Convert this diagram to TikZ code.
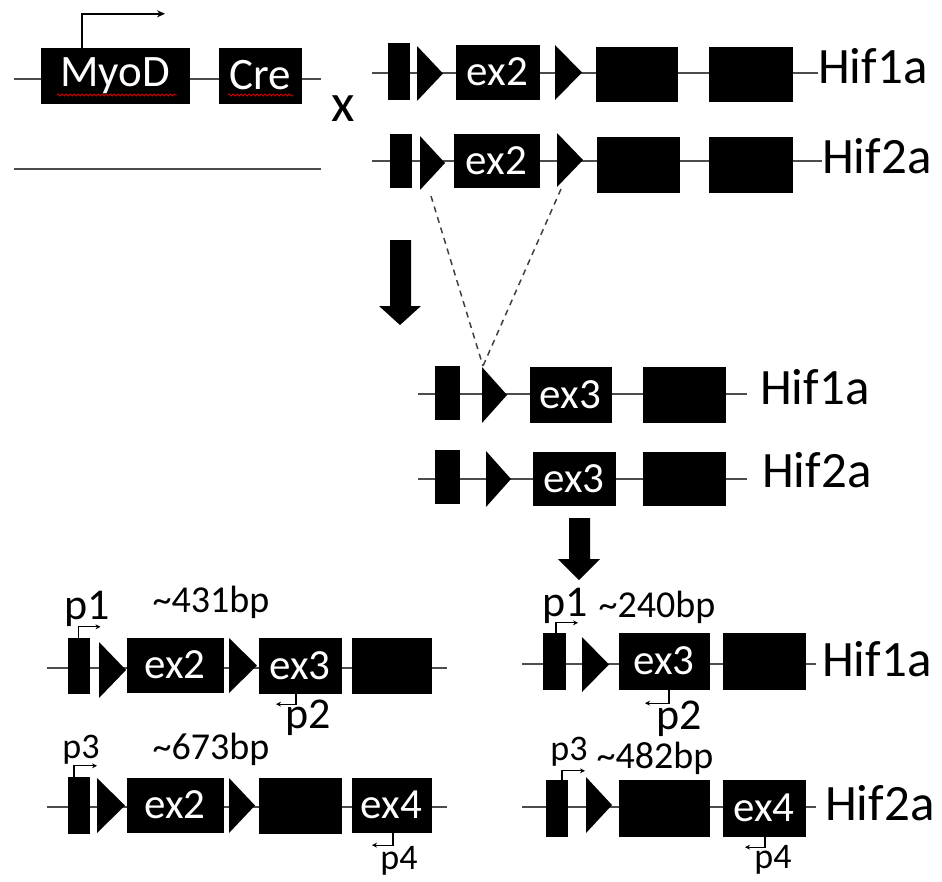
\documentclass[tikz,border=0pt]{standalone}
\usepackage{fontspec}
\setmainfont{Carlito}
\usetikzlibrary{arrows.meta, decorations.pathmorphing}

\tikzset{
  backbone/.style={line width=1.6pt, draw=black!70},
  exon/.style={fill=black, draw=black, text=white, inner sep=0pt, font=\fontsize{43}{43}\selectfont},
  genename/.style={anchor=base west, inner sep=0pt, font=\fontsize{51}{51}\selectfont},
  bplabel/.style={inner sep=0pt, font=\fontsize{38}{38}\selectfont},
  pbig/.style={inner sep=0pt, font=\fontsize{44}{44}\selectfont},
  psmall/.style={inner sep=0pt, font=\fontsize{36}{36}\selectfont},
  promoter/.style={line width=1.4pt, -{Stealth[length=8pt, width=7pt]}},
  primer/.style={line width=1.2pt, -{Stealth[length=5pt, width=5pt]}},
  cutline/.style={line width=1.5pt, draw=black!75, dash pattern=on 6pt off 5pt},
  squiggle/.style={draw=red!85!black, line width=0.8pt, decorate,
    decoration={snake, amplitude=1.1pt, segment length=4pt}}
}

\begin{document}
\begin{tikzpicture}[x=1pt, y=-1pt]
\useasboundingbox (0,0) rectangle (942,881);

% === MyoD-Cre allele ===
\draw[backbone] (14,79) -- (321,79);
\node[exon, font=\fontsize{45}{45}\selectfont, minimum width=148pt, minimum height=55pt] (myod) at (115,75.5) {MyoD};
\node[exon, font=\fontsize{45}{45}\selectfont, minimum width=82pt, minimum height=55pt] (cre) at (260,75.5) {Cre};
\draw[promoter] ([xshift=-33pt]myod.north) -- ++(0,-34) -- ++(83,0);
\draw[squiggle] (57,95) -- (177,95);
\draw[squiggle] (228,95) -- (293,95);

% wild type allele
\draw[backbone] (14,169) -- (321,169);

\node[inner sep=0pt, font=\fontsize{54}{54}\selectfont] (cross) at (343,109) {x};

% === floxed Hif1a ===
\draw[backbone] (372,73) -- (818,73);
\node[exon, minimum width=21pt, minimum height=56pt] (aex1) at (398.5,71) {};
\fill (417,46) -- (443,73.5) -- (417,101) -- cycle;
\node[exon, minimum width=83pt, minimum height=54pt] (aex2) at (497.5,72) {ex2};
\fill (555,45) -- (582,72.5) -- (555,100) -- cycle;
\node[exon, minimum width=81pt, minimum height=54pt] (aex3) at (636.5,74) {};
\node[exon, minimum width=83pt, minimum height=54pt] (aex4) at (750.5,74) {};
\node[genename] (alabel) at (818,83) {Hif1a};

% === floxed Hif2a ===
\draw[backbone] (372,161) -- (822,161);
\node[exon, minimum width=21pt, minimum height=53pt] (bex1) at (400.5,160.5) {};
\fill (420,136) -- (445,163) -- (420,190) -- cycle;
\node[exon, minimum width=85pt, minimum height=53pt] (bex2) at (496.5,160.5) {ex2};
\fill (557,133) -- (583,160) -- (557,187) -- cycle;
\node[exon, minimum width=82pt, minimum height=55pt] (bex3) at (638,164.5) {};
\node[exon, minimum width=83pt, minimum height=55pt] (bex4) at (750.5,164.5) {};
\node[genename] (blabel) at (822,173) {Hif2a};

% excision
\coordinate (bloxa) at (431,196);
\coordinate (bloxb) at (561,189);
\coordinate (mlox) at (483,366);
\draw[cutline] (bloxa) -- (mlox);
\draw[cutline] (bloxb) -- (mlox);

\fill (390,240) -- (411,240) -- (411,306) -- (421,306) -- (400,325) -- (379,306) -- (390,306) -- cycle;

% === deleted Hif1a ===
\draw[backbone] (418,394) -- (747,394);
\node[exon, minimum width=24pt, minimum height=53pt] (cex1) at (447,392.5) {};
\fill (482,367) -- (507,395) -- (482,423) -- cycle;
\node[exon, minimum width=81pt, minimum height=55pt] (cex3) at (570.5,394.5) {ex3};
\node[exon, minimum width=82pt, minimum height=55pt] (cex4) at (684,394.5) {};
\node[genename] (clabel) at (760,404) {Hif1a};

% === deleted Hif2a ===
\draw[backbone] (418,479) -- (747,479);
\node[exon, minimum width=24pt, minimum height=53pt] (dex1) at (447,476.5) {};
\fill (486,451) -- (511,479) -- (486,507) -- cycle;
\node[exon, minimum width=82pt, minimum height=53pt] (dex3) at (574,478.5) {ex3};
\node[exon, minimum width=82pt, minimum height=53pt] (dex4) at (684,478.5) {};
\node[genename] (dlabel) at (762,487) {Hif2a};

\fill (569,518) -- (590,518) -- (590,559) -- (600,559) -- (579,580) -- (558,559) -- (569,559) -- cycle;

% === PCR, floxed ===
\draw[backbone] (47,668) -- (447,668);
\node[exon, minimum width=21pt, minimum height=55pt] (fex1) at (78.5,665.5) {};
\fill (99,642) -- (126,670) -- (99,698) -- cycle;
\node[exon, minimum width=96pt, minimum height=54pt] (fex2) at (175,665) {ex2};
\fill (229,638) -- (257,665.5) -- (229,693) -- cycle;
\node[exon, minimum width=82pt, minimum height=55pt] (fex3) at (300,665.5) {ex3};
\node[exon, minimum width=79pt, minimum height=55pt] (fex4) at (391.5,665.5) {};
\draw[primer] (fex1.north) -- ++(0,-11) -- ++(22,0);
\node[pbig] (fp1) at (87,609) {p1};
\node[bplabel] (fbp1) at (211,602) {\textasciitilde431bp};
\draw[primer] ([xshift=-4pt]fex3.south) -- ++(0,11) -- ++(-20,0);
\node[pbig] (fp2) at (308,718) {p2};

\draw[backbone] (47,807) -- (447,807);
\node[exon, minimum width=21pt, minimum height=56pt] (gex1) at (78.5,805) {};
\fill (97,778) -- (125,805.5) -- (97,833) -- cycle;
\node[exon, minimum width=96pt, minimum height=54pt] (gex2) at (175,805) {ex2};
\fill (229,778) -- (255,805.5) -- (229,833) -- cycle;
\node[exon, minimum width=82pt, minimum height=55pt] (gex3) at (300,805.5) {};
\node[exon, minimum width=79pt, minimum height=54pt] (gex4) at (391.5,805) {ex4};
\draw[primer] ([xshift=-4.5pt]gex1.north) -- ++(0,-11) -- ++(23,0);
\node[psmall] (gp3) at (81,750) {p3};
\node[bplabel] (gbp) at (211,749) {\textasciitilde673bp};
\draw[primer] ([xshift=1.5pt]gex4.south) -- ++(0,13) -- ++(-21,0);
\node[psmall] (gp4) at (399,861) {p4};

% === PCR, deleted ===
\draw[backbone] (522,664) -- (816,664);
\node[exon, minimum width=22pt, minimum height=56pt] (hex1) at (554,661) {};
\fill (582,637) -- (609,664.5) -- (582,692) -- cycle;
\node[exon, minimum width=90pt, minimum height=56pt] (hex3) at (664,661) {ex3};
\node[exon, minimum width=82pt, minimum height=56pt] (hex4) at (764,661) {};
\node[genename] (hlabel) at (822,676) {Hif1a};
\draw[primer] ([xshift=2pt]hex1.north) -- ++(0,-10) -- ++(22,0);
\node[pbig] (hp1) at (565,606) {p1};
\node[bplabel] (hbp) at (657,607) {\textasciitilde240bp};
\draw[primer] ([xshift=5pt]hex3.south) -- ++(0,14) -- ++(-24,0);
\node[pbig] (hp2) at (679,719) {p2};

\draw[backbone] (522,807) -- (816,807);
\node[exon, minimum width=21pt, minimum height=56pt] (kex1) at (556.5,808) {};
\fill (586,777) -- (612,805) -- (586,833) -- cycle;
\node[exon, minimum width=90pt, minimum height=56pt] (kex3) at (664,808) {};
\node[exon, minimum width=82pt, minimum height=56pt] (kex4) at (764,808) {ex4};
\node[genename] (klabel) at (825,820) {Hif2a};
\draw[primer] ([xshift=5.5pt]kex1.north) -- ++(0,-9) -- ++(23,0);
\node[psmall] (kp3) at (569,752) {p3};
\node[bplabel] (kbp) at (655,758) {\textasciitilde482bp};
\draw[primer] ([xshift=1pt]kex4.south) -- ++(0,11) -- ++(-20,0);
\node[psmall] (kp4) at (773,860) {p4};

\end{tikzpicture}
\end{document}
